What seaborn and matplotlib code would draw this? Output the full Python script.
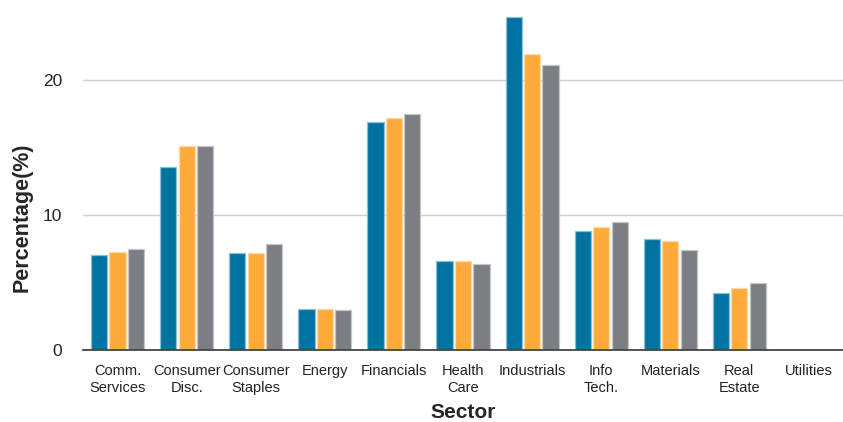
import matplotlib
matplotlib.use("Agg")
import matplotlib.pyplot as plt
import matplotlib.colors as mcolors
import seaborn as sns
import pandas as pd
import numpy as np

# 数据：各行业占比(%)
sectors = ["Comm.\nServices", "Consumer\nDisc.", "Consumer\nStaples", "Energy",
           "Financials", "Health\nCare", "Industrials", "Info\nTech.",
           "Materials", "Real\nEstate", "Utilities"]
series_names = ["Series 1", "Series 2", "Series 3"]
series_1 = [7.0, 13.5, 7.17, 3.0, 16.88, 6.58, 24.62, 8.8, 8.2, 4.19, 0.0]
series_2 = [7.25, 15.1, 7.17, 3.05, 17.15, 6.58, 21.86, 9.09, 8.08, 4.61, 0.0]
series_3 = [7.49, 15.06, 7.86, 2.93, 17.47, 6.38, 21.05, 9.44, 7.39, 4.95, 0.0]
palette = ["#0073A1", "#FFAB3C", "#7B7E83"]

df = pd.DataFrame({
    "Sector": sectors * 3,
    "Series": np.repeat(series_names, len(sectors)),
    "Value": series_1 + series_2 + series_3,
})

sns.set_style("white")
plt.rcParams["font.family"] = ["Liberation Sans", "DejaVu Sans"]

fig = plt.figure(figsize=(8.43, 4.22), dpi=100)
ax = fig.add_axes([0.0985, 0.1706, 0.9015, 0.8094])

sns.barplot(data=df, x="Sector", y="Value", hue="Series", palette=palette,
            saturation=1, width=0.8, gap=0.12, ax=ax, legend=False,
            linewidth=0.9)

# 柱子边缘用浅色
for p in ax.patches:
    fc = np.array(mcolors.to_rgb(p.get_facecolor()))
    p.set_edgecolor(tuple(fc + (1 - fc) * 0.55))

ax.set_xlim(-0.5, len(sectors) - 0.5)
ax.set_ylim(0, 25.26)
ax.set_yticks([0, 10, 20])
ax.yaxis.grid(True, color="#cfcfcf", linewidth=1.0)
ax.set_axisbelow(True)
for s in ["top", "right", "left"]:
    ax.spines[s].set_visible(False)
ax.spines["bottom"].set_color("#444444")
ax.spines["bottom"].set_linewidth(1.3)
ax.spines["bottom"].set_zorder(5)

ax.tick_params(axis="x", length=0, pad=10, labelsize=10.5, colors="#222222")
ax.tick_params(axis="y", length=0, pad=15, labelsize=12.5, colors="#222222")
for lbl in ax.get_xticklabels():
    lbl.set_linespacing(1.25)

ax.set_xlabel("Sector", fontsize=15, fontweight="bold", labelpad=6)
ax.set_ylabel("Percentage(%)", fontsize=15.5, fontweight="bold")
ax.yaxis.set_label_coords(-0.066, 0.39)

fig.savefig("out.png", dpi=100)
